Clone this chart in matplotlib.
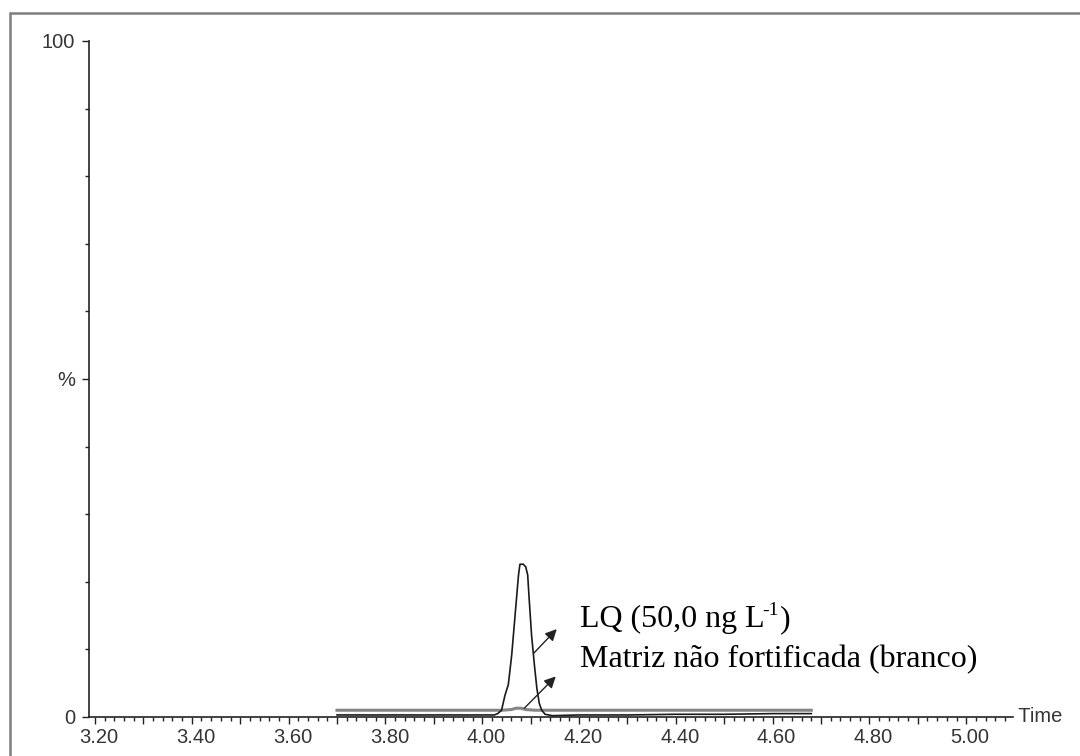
import matplotlib
matplotlib.use("Agg")
import matplotlib.pyplot as plt
from matplotlib.patches import Rectangle
from matplotlib.transforms import ScaledTranslation

# Chromatogram at the limit of quantification (LQ)
lq_time = [3.700, 3.800, 3.900, 4.000, 4.025, 4.032, 4.040, 4.047, 4.054,
           4.061, 4.068, 4.075, 4.078, 4.085, 4.090, 4.094, 4.097, 4.102,
           4.108, 4.113, 4.118, 4.123, 4.130, 4.145, 4.200, 4.300, 4.400,
           4.500, 4.600, 4.680]
lq_pct = [0.3, 0.3, 0.3, 0.3, 0.3, 0.5, 1.0, 3.2, 4.8,
          9.2, 15.1, 21.0, 22.6, 22.6, 22.2, 21.0, 17.5, 12.1,
          7.6, 4.2, 2.0, 1.0, 0.4, 0.2, 0.3, 0.3, 0.4,
          0.4, 0.5, 0.5]

# Unfortified matrix (blank)
blank_time = [3.700, 3.800, 3.900, 4.000, 4.040, 4.060, 4.070, 4.080,
              4.090, 4.110, 4.200, 4.300, 4.400, 4.500, 4.600, 4.680]
blank_pct = [1.0, 1.0, 1.0, 1.0, 1.0, 1.1, 1.3, 1.3,
             1.1, 1.0, 1.0, 1.0, 1.0, 1.0, 1.0, 1.0]

x_major = [3.20, 3.40, 3.60, 3.80, 4.00, 4.20, 4.40, 4.60, 4.80, 5.00]
x_labels = ["3.20", "3.40", "3.60", "3.80", "4.00", "4.20", "4.40",
            "4.60", "4.80", "5.00"]
y_major = [0, 50, 100]
y_labels = ["0", "%", "100"]

W, H = 1080, 756
fig = plt.figure(figsize=(W / 100, H / 100), dpi=100)
fig.patch.set_facecolor("white")

# outer frame
fig.patches.append(Rectangle((10 / W, -0.1), 1.2, 1 - 13 / H + 0.1,
                             transform=fig.transFigure, fill=False,
                             edgecolor="#7d7d7d", lw=1.8))

ax = fig.add_axes([89 / W, 39 / H, 924 / W, 676 / H])
ax.set_xlim(3.1876, 5.0967)
ax.set_ylim(0, 100)
for s in ("top", "right"):
    ax.spines[s].set_visible(False)
for s in ("left", "bottom"):
    ax.spines[s].set_color("#222222")
    ax.spines[s].set_linewidth(1.2)

ax.plot(blank_time, blank_pct, color="#858585", lw=2.2, zorder=2)
ax.plot(lq_time, lq_pct, color="#1a1a1a", lw=1.2, zorder=3)

# x ticks: labelled every 0.2, long ticks every 0.1, short every 0.02
tenth = [round(3.2 + 0.1 * i, 2) for i in range(19)]
ax.set_xticks(tenth)
ax.set_xticklabels([x_labels[x_major.index(t)] if t in x_major else ""
                    for t in tenth])
fine = [round(3.2 + 0.02 * i, 2) for i in range(95)]
ax.set_xticks([t for t in fine if t not in tenth], minor=True)

ax.set_yticks(y_major)
ax.set_yticklabels(y_labels)
ax.set_yticks([10, 20, 30, 40, 60, 70, 80, 90], minor=True)

ax.tick_params(axis="both", which="major", direction="out", length=5,
               width=1.0, color="#222222", labelsize=14.5,
               labelcolor="#353535")
ax.tick_params(axis="both", which="minor", direction="out", length=3,
               width=1.0, color="#222222")
ax.tick_params(axis="x", which="major", pad=3)
ax.tick_params(axis="y", which="major", pad=5)
for lbl in ax.get_xticklabels() + ax.get_yticklabels():
    lbl.set_family("Liberation Sans")
for lbl in ax.get_xticklabels():
    lbl.set_transform(lbl.get_transform() +
                      ScaledTranslation(4 / 100, 0, fig.dpi_scale_trans))

ax.text(1.0, 0.0, " Time", transform=ax.transAxes, ha="left",
        va="center", fontsize=14.5, family="Liberation Sans",
        color="#353535")

# annotations
arrow = dict(arrowstyle="-|>", color="#222222", lw=1.0,
             mutation_scale=17, shrinkA=0, shrinkB=0)
ax.annotate("", xy=(4.154, 13.0), xytext=(4.106, 9.4), arrowprops=arrow)
ax.annotate("", xy=(4.152, 6.0), xytext=(4.087, 1.3), arrowprops=arrow)

serif = dict(family="Liberation Serif", color="black")
lq_main = ax.text(4.202, 13.3, "LQ (50,0 ng L", fontsize=23,
                  va="baseline", ha="left", **serif)
lq_sup = ax.annotate("-1", xy=(1, 13.3), xycoords=(lq_main, "data"),
                     xytext=(-1.5, 9), textcoords="offset points",
                     fontsize=14, va="baseline", ha="left", **serif)
ax.annotate(")", xy=(1, 13.3), xycoords=(lq_sup, "data"),
            xytext=(0.5, 0), textcoords="offset points",
            fontsize=23, va="baseline", ha="left", **serif)
ax.text(4.202, 7.4, "Matriz não fortificada (branco)", fontsize=23,
        va="baseline", ha="left", **serif)

fig.savefig("out.png", dpi=100, facecolor="white")
